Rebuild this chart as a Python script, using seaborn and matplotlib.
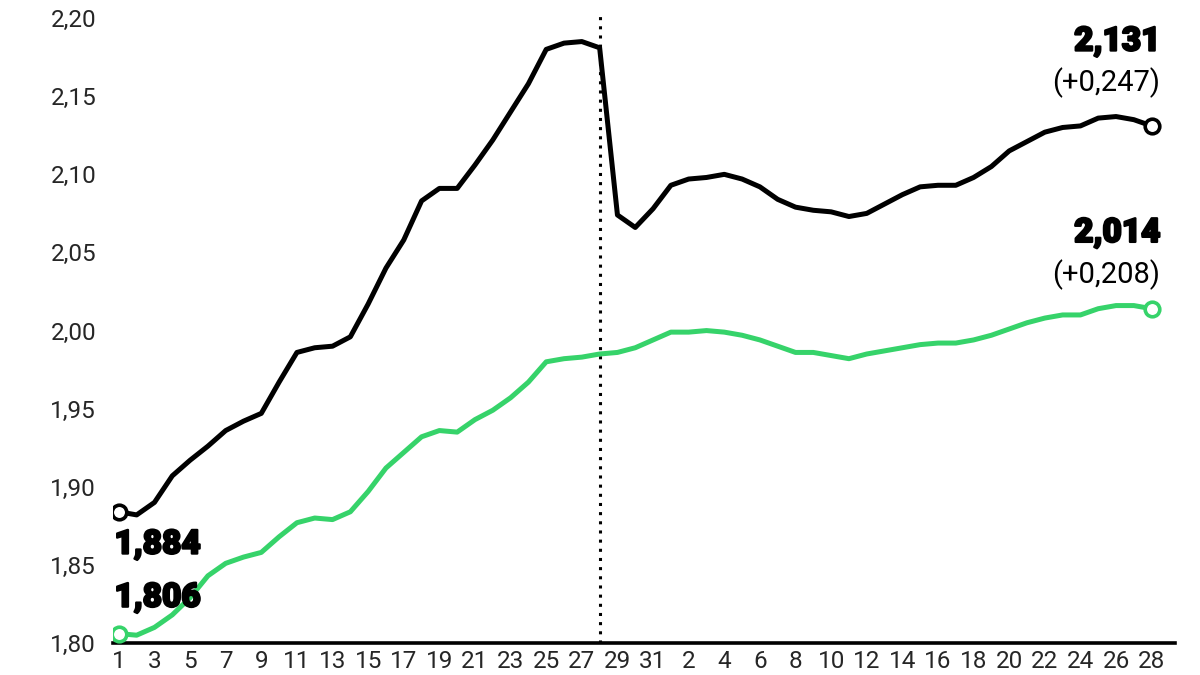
import numpy as np
import pandas as pd
import matplotlib
matplotlib.use("Agg")
import matplotlib.pyplot as plt
import matplotlib.patheffects as pe
import seaborn as sns

# Jan 1-31 then Feb 1-28
days = list(range(1, 32)) + list(range(1, 29))

black_vals = [1.884, 1.882, 1.890, 1.907, 1.917, 1.926, 1.936, 1.942, 1.947, 1.967,
              1.986, 1.989, 1.990, 1.996, 2.017, 2.040, 2.058, 2.083, 2.091, 2.091,
              2.106, 2.122, 2.140, 2.158, 2.180, 2.184, 2.185, 2.181, 2.074, 2.066,
              2.078,
              2.093, 2.097, 2.098, 2.100, 2.097, 2.092, 2.084, 2.079, 2.077, 2.076,
              2.073, 2.075, 2.081, 2.087, 2.092, 2.093, 2.093, 2.098, 2.105, 2.115,
              2.121, 2.127, 2.130, 2.131, 2.136, 2.137, 2.135, 2.131]

green_vals = [1.806, 1.805, 1.810, 1.818, 1.829, 1.843, 1.851, 1.855, 1.858, 1.868,
              1.877, 1.880, 1.879, 1.884, 1.897, 1.912, 1.922, 1.932, 1.936, 1.935,
              1.943, 1.949, 1.957, 1.967, 1.980, 1.982, 1.983, 1.985, 1.986, 1.989,
              1.994,
              1.999, 1.999, 2.000, 1.999, 1.997, 1.994, 1.990, 1.986, 1.986, 1.984,
              1.982, 1.985, 1.987, 1.989, 1.991, 1.992, 1.992, 1.994, 1.997, 2.001,
              2.005, 2.008, 2.010, 2.010, 2.014, 2.016, 2.016, 2.014]

split_idx = 27  # dotted line at Jan 28
black_start, black_end, black_diff = "1,884", "2,131", "(+0,247)"
green_start, green_end, green_diff = "1,806", "2,014", "(+0,208)"

BLACK = "#000000"
GREEN = "#36d36a"

n = len(days)
idx = np.arange(n)
df = pd.DataFrame({
    "idx": np.concatenate([idx, idx]),
    "value": black_vals + green_vals,
    "serie": ["black"] * n + ["green"] * n,
})

sns.set_style("white")
plt.rcParams["font.family"] = ["Roboto", "DejaVu Sans"]

fig = plt.figure(figsize=(12, 6.75), dpi=100)
ax = fig.add_axes([0.094, 0.0474, 0.885, 0.935])

sns.lineplot(data=df, x="idx", y="value", hue="serie",
             palette={"black": BLACK, "green": GREEN},
             linewidth=3.6, legend=False, ax=ax)

for vals, col in [(black_vals, BLACK), (green_vals, GREEN)]:
    ax.plot([idx[0], idx[-1]], [vals[0], vals[-1]], "o", ms=10.5,
            mfc="white", mec=col, mew=2.6, zorder=5)

ax.axvline(split_idx, color="black", ls=(0, (1, 2)), lw=2.2, zorder=1)

ax.set_xlim(-0.34, 59.3)
ax.set_ylim(1.80, 2.204)

yt = np.arange(1.80, 2.201, 0.05)
ax.set_yticks(yt)
ax.set_yticklabels([f"{v:.2f}".replace(".", ",") for v in yt], fontsize=17.5)
ax.set_xticks(idx)
ax.set_xticklabels([str(d) if i % 2 == 0 else "" for i, d in enumerate(days)], fontsize=17.5)
ax.tick_params(axis="x", direction="in", length=7, width=1.5, color="black", pad=5)
ax.tick_params(axis="y", length=0, pad=12)
ax.set_xlabel("")
ax.set_ylabel("")

for s in ["top", "right", "left"]:
    ax.spines[s].set_visible(False)
ax.spines["bottom"].set_linewidth(2.6)
ax.spines["bottom"].set_color("black")

# heavier look for the value labels
heavy = [pe.withStroke(linewidth=1.6, foreground="black")]
big = dict(fontsize=24, fontweight="heavy", color="black", va="center",
           path_effects=heavy)
small = dict(fontsize=21, color="black", va="center")
ax.text(-0.25, 1.863, black_start, ha="left", **big)
ax.text(-0.25, 1.829, green_start, ha="left", **big)
ax.text(58.5, 2.185, black_end, ha="right", **big)
ax.text(58.5, 2.1585, black_diff, ha="right", **small)
ax.text(58.5, 2.0625, green_end, ha="right", **big)
ax.text(58.5, 2.0356, green_diff, ha="right", **small)

fig.savefig("out.png", dpi=100)
